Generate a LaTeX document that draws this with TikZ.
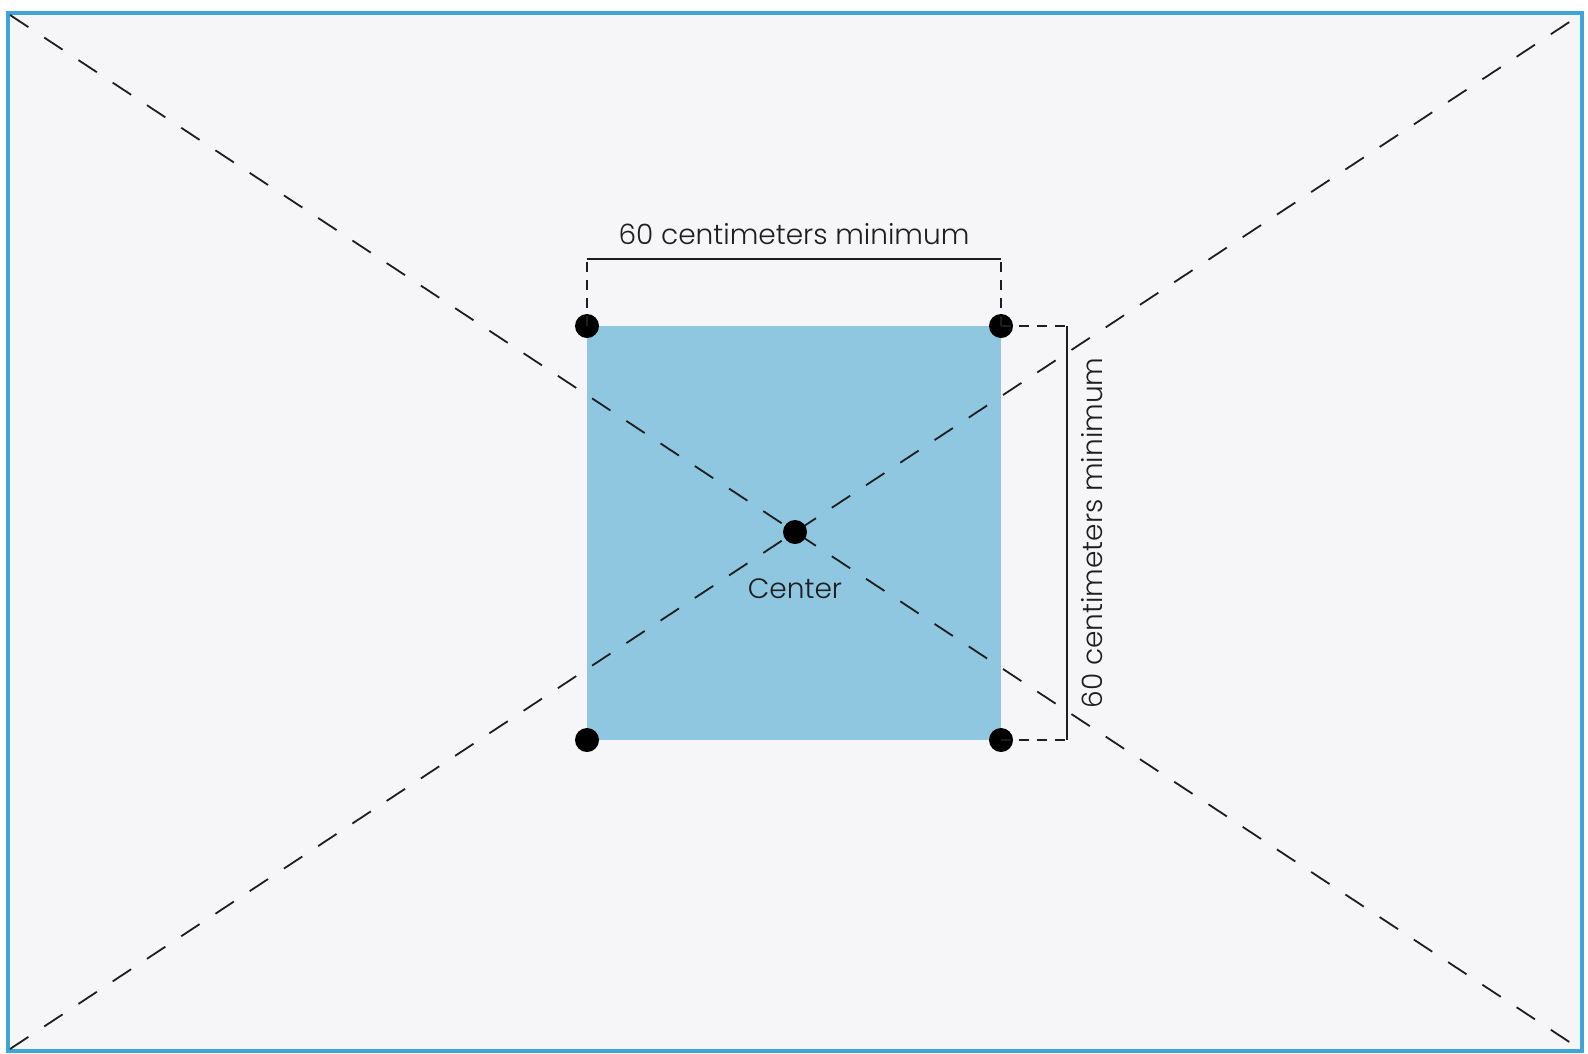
\documentclass[tikz,border=0pt]{standalone}
\usepackage{fontspec}
\setmainfont{Poppins}[UprightFont={* Light}]
\definecolor{framecol}{HTML}{3FA4D6}
\definecolor{bgcol}{HTML}{F6F6F8}
\definecolor{sqcol}{HTML}{8FC7E1}
\definecolor{inkcol}{HTML}{1E1E1E}
\begin{document}
\begin{tikzpicture}[x=1pt,y=-1pt,
  diag/.style={draw=inkcol, line width=1.8pt, dash pattern=on 22pt off 19pt},
  dimdash/.style={draw=inkcol, line width=1.8pt, dash pattern=on 10pt off 8pt},
  dimline/.style={draw=inkcol, line width=2.2pt},
  dot/.style={circle, fill=black, minimum size=24pt, inner sep=0pt},
  lbl/.style={font=\fontsize{28}{32}\selectfont, text=inkcol, inner sep=0pt}]
\useasboundingbox (0,0) rectangle (1588,1053);
\fill[white] (0,0) rectangle (1588,1053);
\draw[framecol, line width=4pt, fill=bgcol] (8,13) rectangle (1582,1051);
% square
\fill[sqcol] (587,326) rectangle (1001,740);
% corners of frame
\coordinate (tl) at (10,15);
\coordinate (tr) at (1580,15);
\coordinate (bl) at (10,1049);
\coordinate (br) at (1580,1049);
\draw[diag] (tl) -- (br);
\draw[diag] (bl) -- (tr);
% dots
\node[dot] (a) at (587,326) {};
\node[dot] (b) at (1001,326) {};
\node[dot] (c) at (587,740) {};
\node[dot] (d) at (1001,740) {};
\node[dot] (m) at (795,532) {};
% top dimension
\coordinate (ta) at (587,259);
\coordinate (tb) at (1001,259);
\draw[dimdash] (a.center) -- (ta);
\draw[dimdash] (b.center) -- (tb);
\draw[dimline] (ta) -- (tb);
\node[lbl, anchor=base] (tlabel) at (794,244) {60 centimeters minimum};
% right dimension
\coordinate (ra) at (1067,326);
\coordinate (rb) at (1067,740);
\draw[dimdash] (b.center) -- (ra);
\draw[dimdash] (d.center) -- (rb);
\draw[dimline] (ra) -- (rb);
\node[lbl, anchor=base, rotate=90] (rlabel) at (1102,533) {60 centimeters minimum};
% center label
\node[lbl, anchor=base] (clabel) at (795,598) {Center};
\end{tikzpicture}
\end{document}
